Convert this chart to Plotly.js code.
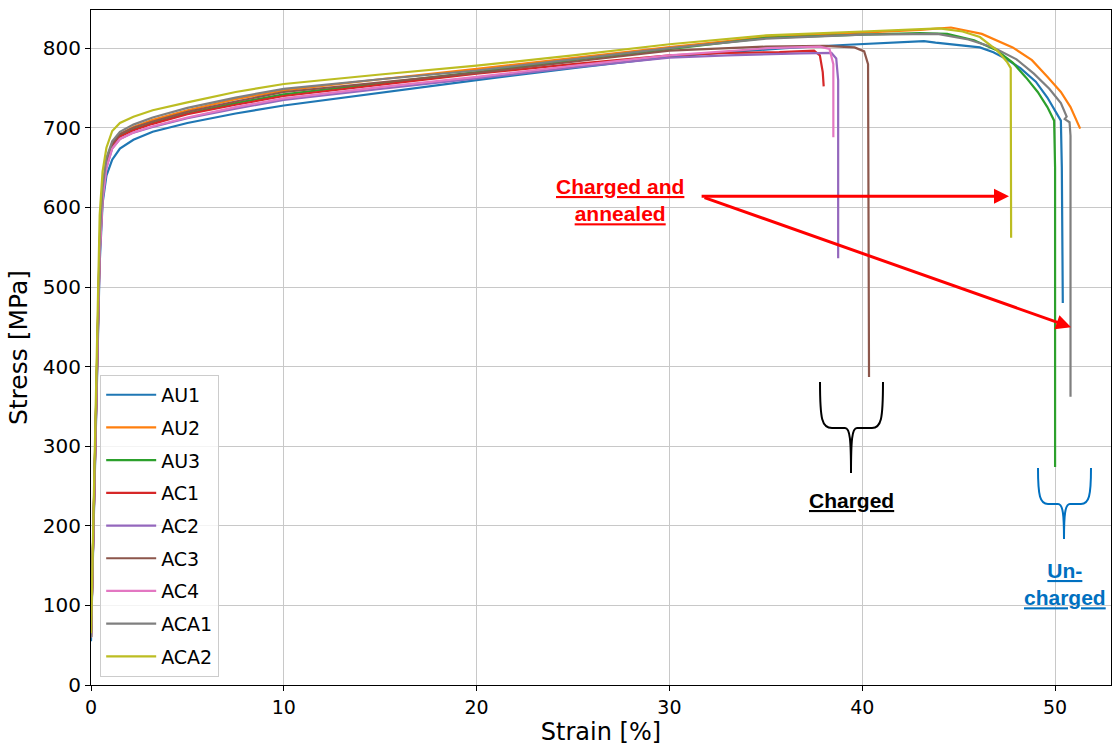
<!DOCTYPE html>
<html>
<head>
<meta charset="utf-8">
<script src="https://cdn.plot.ly/plotly-3.0.1.min.js"></script>
<style>html,body{margin:0;padding:0;background:#fff;}#chart{width:1117px;height:746px;}</style>
</head>
<body>
<div id="chart"></div>
<script>
// ---- Data (strain in %, stress in MPa) ----
const seriesNames = ["AU1", "AU2", "AU3", "AC1", "AC2", "AC3", "AC4", "ACA1", "ACA2"];
const seriesColors = ["#1f77b4", "#ff7f0e", "#2ca02c", "#d62728", "#9467bd", "#8c564b", "#e377c2", "#7f7f7f", "#bcbd22"];

const AU1_strain = [0, 0.15, 0.3, 0.45, 0.6, 0.8, 1.1, 1.5, 2.2, 3.2, 5, 7.5, 10, 15, 20, 25, 30, 33, 36, 39, 42.5, 43.2, 43.8, 44.6, 46.1, 46.8, 47.5, 48.2, 49, 49.6, 50.3, 50.35, 50.4];
const AU1_stress = [55, 220, 390, 530, 605, 640, 660, 674, 685, 695, 706, 718, 728, 744, 760, 775, 789, 795, 800, 804, 808.5, 809, 807, 805, 801, 795, 786, 775, 758, 738, 709, 650, 480];

const AU2_strain = [0, 0.15, 0.3, 0.45, 0.6, 0.8, 1.1, 1.5, 2.2, 3.2, 5, 7.5, 10, 15, 20, 25, 30, 35, 40, 43, 44.6, 46.2, 47.8, 48.8, 49.6, 50.3, 50.8, 51.3];
const AU2_stress = [60, 235, 410, 555, 622, 660, 681, 692, 701, 710, 722, 736, 747, 761, 774, 788, 801.5, 814, 820, 823, 826, 818, 801, 785, 764, 745, 726, 699];

const AU3_strain = [0, 0.15, 0.3, 0.45, 0.6, 0.8, 1.1, 1.5, 2.2, 3.2, 5, 7.5, 10, 15, 20, 25, 30, 35, 40, 43, 44.4, 45.8, 47, 47.8, 48.5, 49.1, 49.6, 49.95, 50, 50];
const AU3_stress = [60, 230, 405, 550, 618, 656, 678, 690, 698, 706, 718, 731, 742, 756, 770, 785, 799, 813, 817, 819, 818, 810, 797, 782, 763, 745, 726, 709, 650, 274];

const AC1_strain = [0, 0.15, 0.3, 0.45, 0.6, 0.8, 1.1, 1.5, 2.2, 3.2, 5, 7.5, 10, 15, 20, 25, 30, 33, 35.7, 37.5, 37.8, 37.95, 38];
const AC1_stress = [60, 228, 400, 545, 615, 654, 677, 689, 697, 705, 717, 729, 740, 754, 768, 780, 791, 794, 795, 797, 791, 770, 752];

const AC2_strain = [0, 0.15, 0.3, 0.45, 0.6, 0.8, 1.1, 1.5, 2.2, 3.2, 5, 7.5, 10, 15, 20, 25, 30, 33, 36.8, 38.4, 38.65, 38.75, 38.75];
const AC2_stress = [60, 225, 395, 540, 610, 650, 674, 686, 694, 701, 712, 724, 735, 749, 762, 776, 788, 791, 793.5, 794, 787, 760, 536];

const AC3_strain = [0, 0.15, 0.3, 0.45, 0.6, 0.8, 1.1, 1.5, 2.2, 3.2, 5, 7.5, 10, 15, 20, 25, 30, 35, 38, 39.6, 40.1, 40.3, 40.35];
const AC3_stress = [60, 232, 405, 552, 620, 658, 680, 692, 700, 708, 720, 733, 745, 757, 769, 783, 797, 802, 803, 801, 796, 780, 387];

const AC4_strain = [0, 0.15, 0.3, 0.45, 0.6, 0.8, 1.1, 1.5, 2.2, 3.2, 5, 7.5, 10, 15, 20, 25, 30, 35.1, 37.8, 38.3, 38.5, 38.5];
const AC4_stress = [60, 225, 395, 540, 610, 650, 674, 686, 694, 702, 713, 726, 737, 751, 764, 778, 791, 800, 802, 799, 780, 688];

const ACA1_strain = [0, 0.15, 0.3, 0.45, 0.6, 0.8, 1.1, 1.5, 2.2, 3.2, 5, 7.5, 10, 15, 20, 25, 30, 35, 40, 43.9, 45.5, 46.8, 48, 48.9, 49.7, 50.3, 50.6, 50.5, 50.75, 50.8, 50.8];
const ACA1_stress = [60, 235, 410, 560, 625, 662, 683, 695, 704, 713, 725, 738, 749, 761, 772, 786, 800, 812, 817, 818, 811, 801, 786, 768, 749, 731, 714, 711, 707, 690, 362];

const ACA2_strain = [0, 0.15, 0.3, 0.45, 0.6, 0.8, 1.1, 1.5, 2.2, 3.2, 5, 7.5, 10, 15, 20, 25, 30, 35, 40, 44, 45.2, 46.1, 47, 47.5, 47.7, 47.72];
const ACA2_stress = [65, 250, 440, 590, 645, 675, 696, 706, 714, 722, 732, 745, 755, 767, 778, 791, 805, 816, 821, 825, 821, 814, 797, 783, 775, 562];

const xTicks = [0, 10, 20, 30, 40, 50];
const yTicks = [0, 100, 200, 300, 400, 500, 600, 700, 800];

const strains = [AU1_strain, AU2_strain, AU3_strain, AC1_strain, AC2_strain, AC3_strain, AC4_strain, ACA1_strain, ACA2_strain];
const stresses = [AU1_stress, AU2_stress, AU3_stress, AC1_stress, AC2_stress, AC3_stress, AC4_stress, ACA1_stress, ACA2_stress];

const traces = seriesNames.map((n, i) => ({
  type: "scatter", mode: "lines", name: n,
  x: strains[i], y: stresses[i],
  legendgroup: n,
  line: {color: seriesColors[i], width: 2.2}
}));

// ---- decoration helpers (pixel -> paper) ----
const L = 91, R = 1111, T = 10, B = 685;
const px = p => ((p - L) / (R - L)).toFixed(5);
const py = p => ((B - p) / (B - T)).toFixed(5);
function pathFrom(cmds) {
  return cmds.map(c => c[0] + " " + c.slice(1).map((v, k) => k % 2 === 0 ? px(v) : py(v)).join(",")).join(" ");
}
const braceBlack = pathFrom([["M",820,382],["C",820,420,822,428,832,428],["L",845,428],["C",850,428,851,440,851,473],["C",851,440,852,428,857,428],["L",872,428],["C",881,428,883,420,883,382]]);
const braceBlue = pathFrom([["M",1038,468],["C",1038,496,1040,504,1048,504],["L",1058,504],["C",1063,504,1064,515,1064,539],["C",1064,515,1065,504,1070,504],["L",1081,504],["C",1089,504,1091,496,1091,468]]);

const annFont = "Liberation Sans, Arial, sans-serif";
const layout = {
  width: 1117, height: 746,
  margin: {l: L, r: 1117 - R, t: T, b: 746 - B, pad: 0},
  paper_bgcolor: "#ffffff", plot_bgcolor: "#ffffff",
  font: {family: "DejaVu Sans, sans-serif", color: "#000000", size: 19},
  showlegend: true,
  legend: {
    x: 0.009, y: 0.012, xanchor: "left", yanchor: "bottom",
    bgcolor: "rgba(255,255,255,0.8)", bordercolor: "#cccccc", borderwidth: 1,
    font: {family: "DejaVu Sans, sans-serif", size: 19, color: "#000"},
    traceorder: "grouped", tracegroupgap: 5, itemwidth: 50
  },
  xaxis: {
    range: [0, 52.9], tickvals: xTicks, ticktext: xTicks.map(String),
    showgrid: true, gridcolor: "#c8c8c8", gridwidth: 1,
    zeroline: false, showline: true, linecolor: "#000", linewidth: 1, mirror: true,
    ticks: "outside", ticklen: 5, tickcolor: "#000", tickfont: {size: 19},
    title: {text: "Strain [%]", font: {size: 24}, standoff: 6}
  },
  yaxis: {
    range: [0, 848], tickvals: yTicks, ticktext: yTicks.map(String),
    showgrid: true, gridcolor: "#c8c8c8", gridwidth: 1,
    zeroline: false, showline: true, linecolor: "#000", linewidth: 1, mirror: true,
    ticks: "outside", ticklen: 5, tickcolor: "#000", tickfont: {size: 20},
    title: {text: "Stress [MPa]", font: {size: 25}, standoff: 8}
  },
  shapes: [
    {type: "path", xref: "paper", yref: "paper", path: braceBlack, line: {color: "#000000", width: 2}},
    {type: "path", xref: "paper", yref: "paper", path: braceBlue, line: {color: "#0070c0", width: 2}}
  ],
  annotations: [
    {xref: "paper", yref: "paper", x: +px(620), y: +py(200), text: "<b><u>Charged and</u></b><br><b><u>annealed</u></b>",
     showarrow: false, font: {family: annFont, size: 21, color: "#ff0000"}, xanchor: "center", yanchor: "middle", align: "center"},
    {xref: "paper", yref: "paper", x: +px(851), y: +py(500), text: "<b><u>Charged</u></b>",
     showarrow: false, font: {family: annFont, size: 21, color: "#000000"}, xanchor: "center", yanchor: "middle"},
    {xref: "paper", yref: "paper", x: +px(1065), y: +py(584), text: "<b><u>Un-</u></b><br><b><u>charged</u></b>",
     showarrow: false, font: {family: annFont, size: 21, color: "#0070c0"}, xanchor: "center", yanchor: "middle", align: "center"},
    {xref: "x", yref: "y", axref: "x", ayref: "y", x: 47.61, y: 614, ax: 31.59, ay: 614, text: "",
     showarrow: true, arrowhead: 2, arrowsize: 1, arrowwidth: 3, arrowcolor: "#ff0000", standoff: 0, startstandoff: 0},
    {xref: "x", yref: "y", axref: "x", ayref: "y", x: 50.83, y: 449.5, ax: 31.74, ay: 613, text: "",
     showarrow: true, arrowhead: 2, arrowsize: 1, arrowwidth: 3, arrowcolor: "#ff0000", standoff: 0, startstandoff: 0}
  ]
};

Plotly.newPlot("chart", traces, layout, {staticPlot: true, displayModeBar: false});
</script>
</body>
</html>
